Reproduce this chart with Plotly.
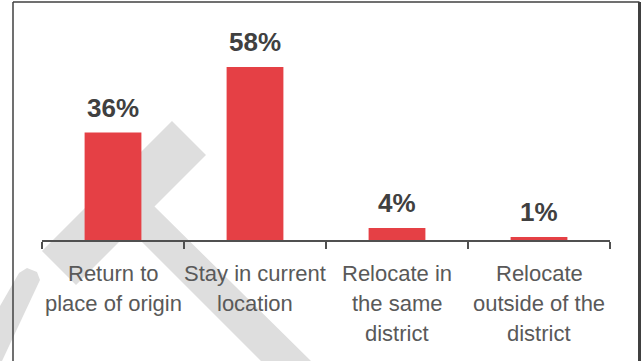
import plotly.graph_objects as go

# Survey responses: preferred durable solution
tick_lines = [
    ["Return to", "place of origin"],
    ["Stay in current", "location"],
    ["Relocate in", "the same", "district"],
    ["Relocate", "outside of the", "district"],
]
categories = [" ".join(lines) for lines in tick_lines]
shares = [36, 58, 4, 1]

BAR_COLOR = "#E54045"
LABEL_COLOR = "#404040"
TICK_COLOR = "#595959"
FONT = "Liberation Sans, Arial, sans-serif"

W, H = 643, 361
ML, MR, MT, MB = 42, 33, 46, 121
PW, PH = W - ML - MR, H - MT - MB
LINE_STEP = 30


def px_to_paper(x, y):
    return (x - ML) / PW, (H - MB - y) / PH


def path_from_px(points):
    parts = []
    for i, (x, y) in enumerate(points):
        xp, yp = px_to_paper(x, y)
        parts.append(("M" if i == 0 else "L") + f"{xp:.5f},{yp:.5f}")
    return " ".join(parts) + " Z"


fig = go.Figure()
fig.add_trace(go.Bar(
    x=categories,
    y=shares,
    marker=dict(color=BAR_COLOR, line=dict(width=0)),
    hoverinfo="skip",
))

annotations = []
# value labels above each bar
for cat, val in zip(categories, shares):
    annotations.append(dict(
        x=cat, y=val, xref="x", yref="y",
        text=f"<b>{val}%</b>", showarrow=False,
        yanchor="bottom", yshift=8,
        font=dict(family=FONT, size=26, color=LABEL_COLOR),
    ))

# category labels under the axis, one line at a time for tight line spacing
for cat, lines in zip(categories, tick_lines):
    for i, line in enumerate(lines):
        annotations.append(dict(
            x=cat, y=0, xref="x", yref="paper",
            text=line, showarrow=False,
            yanchor="top", yshift=-19 - i * LINE_STEP,
            font=dict(family=FONT, size=22, color=TICK_COLOR),
        ))

# faint background emblem
emblem_main = [(172, 121), (206, 155), (154.5, 206.5), (311, 361), (261, 361),
               (130.5, 230.5), (76, 285), (42, 251)]
emblem_tail = [(0, 306), (19, 273), (27, 268), (37, 272), (40, 280), (2, 361), (0, 361)]
shapes = []
for pts in (emblem_main, emblem_tail):
    shapes.append(dict(type="path", xref="paper", yref="paper", layer="below",
                       path=path_from_px(pts), fillcolor="#DEDEDE",
                       line=dict(width=0)))

# frame around the chart
fx0, fy0 = px_to_paper(13, 2)
fx1, fy1 = px_to_paper(639.5, 370)
shapes.append(dict(type="line", xref="paper", yref="paper", x0=fx0, x1=fx0, y0=fy0, y1=fy1,
                   line=dict(color="#404040", width=1.5)))
shapes.append(dict(type="line", xref="paper", yref="paper", x0=fx0, x1=fx1, y0=fy0, y1=fy0,
                   line=dict(color="#404040", width=1.5)))
shapes.append(dict(type="line", xref="paper", yref="paper", x0=fx1, x1=fx1, y0=fy0, y1=fy1,
                   line=dict(color="#404040", width=3)))

fig.update_layout(
    width=W, height=H,
    margin=dict(l=ML, r=MR, t=MT, b=MB, pad=0, autoexpand=False),
    paper_bgcolor="white", plot_bgcolor="rgba(0,0,0,0)",
    bargap=0.6,
    showlegend=False,
    annotations=annotations,
    shapes=shapes,
    xaxis=dict(
        range=[-0.5, len(categories) - 0.5],
        showline=True, linecolor="#505050", linewidth=1.5,
        ticks="outside", tickson="boundaries", ticklen=7, tickwidth=1.5,
        tickcolor="#505050", showgrid=False,
        showticklabels=False, automargin=False,
        fixedrange=True,
    ),
    yaxis=dict(range=[0, 65], visible=False, showgrid=False, fixedrange=True,
               automargin=False),
)

fig.write_html("out.html")
